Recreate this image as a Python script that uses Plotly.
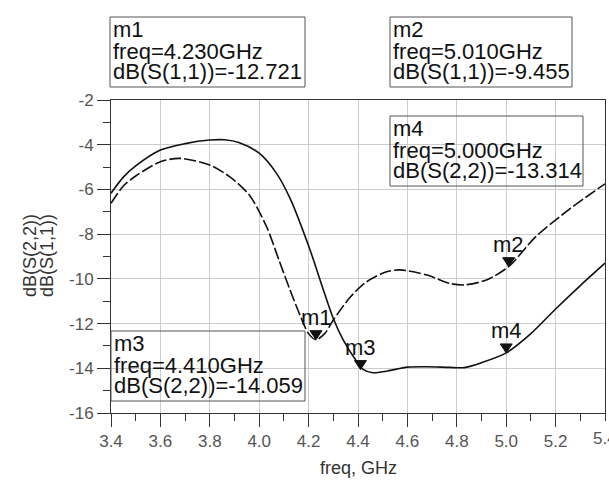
import plotly.graph_objects as go

# ---------------- data ----------------
freq_s11 = [3.40, 3.45, 3.50, 3.60, 3.68, 3.80, 3.88, 3.96, 4.03, 4.08, 4.125, 4.165,
            4.20, 4.23, 4.266, 4.30, 4.37, 4.435, 4.516, 4.57, 4.68, 4.77, 4.83,
            4.92, 5.01, 5.12, 5.26, 5.40]
db_s11 = [-6.62, -5.85, -5.40, -4.76, -4.61, -4.91, -5.43, -6.25, -7.67, -9.16, -10.50,
          -11.62, -12.45, -12.72, -12.44, -11.84, -10.80, -10.13, -9.68, -9.60, -9.83,
          -10.20, -10.27, -10.05, -9.45, -8.11, -6.85, -5.75]

freq_s22 = [3.40, 3.45, 3.50, 3.60, 3.70, 3.80, 3.86, 3.92, 4.00, 4.07, 4.125, 4.206,
            4.26, 4.30, 4.34, 4.395, 4.42, 4.46, 4.52, 4.60, 4.68, 4.77, 4.83, 4.90,
            5.00, 5.10, 5.20, 5.30, 5.40]
db_s22 = [-6.17, -5.45, -4.95, -4.24, -3.95, -3.79, -3.78, -3.91, -4.38, -5.28, -6.40,
          -8.71, -10.50, -11.77, -12.73, -13.70, -14.05, -14.20, -14.12, -13.95, -13.93,
          -13.96, -13.97, -13.75, -13.31, -12.45, -11.35, -10.30, -9.30]

marker_names = ["m1", "m2", "m3", "m4"]
marker_freq = [4.230, 5.010, 4.410, 5.000]
marker_db = [-12.721, -9.455, -14.059, -13.314]
marker_param = ["dB(S(1,1))", "dB(S(1,1))", "dB(S(2,2))", "dB(S(2,2))"]

x_ticks = [3.4, 3.6, 3.8, 4.0, 4.2, 4.4, 4.6, 4.8, 5.0, 5.2, 5.4]
y_ticks = [-2, -4, -6, -8, -10, -12, -14, -16]

# ---------------- layout geometry (pixels) ----------------
W, H = 609, 485
L, T, PW, PH = 111, 100, 494, 313

def px(xp):
    return (xp - L) / PW

def py(yp):
    return (T + PH - yp) / PH

# marker readout boxes: name -> (left, top, right, bottom) in pixels
boxes = {
    "m1": (110, 17, 305, 87),
    "m2": (390, 17, 572, 87),
    "m4": (390, 116, 583, 186),
    "m3": (111, 331, 305, 401),
}

FONT = "Arial, Liberation Sans, sans-serif"
TICKFONT = "Liberation Sans Narrow, Arial Narrow, Arial, sans-serif"
tickfont = dict(family=TICKFONT, size=17, color="#555555")

fig = go.Figure()
fig.add_trace(go.Scatter(x=freq_s11, y=db_s11, mode="lines", name="dB(S(1,1))",
                         line=dict(color="#111111", width=1.6, dash="12px,3px",
                                   shape="spline", smoothing=0.8),
                         showlegend=False, hoverinfo="skip"))
fig.add_trace(go.Scatter(x=freq_s22, y=db_s22, mode="lines", name="dB(S(2,2))",
                         line=dict(color="#111111", width=1.6,
                                   shape="spline", smoothing=0.8),
                         showlegend=False, hoverinfo="skip"))

shapes = []
annotations = []

# triangles + labels at marker points
for name, f, v in zip(marker_names, marker_freq, marker_db):
    shapes.append(dict(type="path", xref="x", yref="y", xsizemode="pixel", ysizemode="pixel",
                       xanchor=f, yanchor=v, path="M -6 9 L 6 9 L 0 0 Z",
                       fillcolor="#111111", line=dict(color="#111111", width=1)))
    annotations.append(dict(x=f, y=v, xref="x", yref="y", text=name, showarrow=False,
                            xanchor="center", yanchor="bottom", yshift=8,
                            font=dict(family=FONT, size=22, color="#111111")))

# readout boxes
for name, f, v, p in zip(marker_names, marker_freq, marker_db, marker_param):
    l, t, r, b = boxes[name]
    shapes.append(dict(type="rect", xref="paper", yref="paper",
                       x0=px(l), x1=px(r), y0=py(b), y1=py(t),
                       line=dict(color="#555555", width=1), fillcolor="rgba(0,0,0,0)"))
    lines = [name, "freq=%.3fGHz" % f, "%s=%.3f" % (p, v)]
    baselines = [t + 19.5, t + 41.5, t + 62]
    for txt, bl in zip(lines, baselines):
        annotations.append(dict(x=px(l + 0.5), y=py(bl - 7.3), xref="paper", yref="paper",
                                text=txt, showarrow=False, xanchor="left", yanchor="middle",
                                font=dict(family=FONT, size=22, color="#111111")))

# last x tick label, cut by the right edge of the picture as in the reference
annotations.append(dict(x=x_ticks[-1], y=0, xref="x", yref="paper", text="%.1f" % x_ticks[-1],
                        showarrow=False, xanchor="center", yanchor="top", yshift=-14,
                        font=tickfont))

# y-axis title as two rotated lines
for txt, xc in [("dB(S(2,2))", 30), ("dB(S(1,1))", 47)]:
    annotations.append(dict(x=px(xc), y=py(256), xref="paper", yref="paper", text=txt,
                            textangle=-90, showarrow=False, xanchor="center", yanchor="middle",
                            font=dict(family=FONT, size=18, color="#333333")))
# x-axis title
annotations.append(dict(x=px(358), y=py(468), xref="paper", yref="paper", text="freq, GHz",
                        showarrow=False, xanchor="center", yanchor="middle",
                        font=dict(family=FONT, size=18, color="#333333")))

fig.update_layout(
    width=W, height=H,
    margin=dict(l=L, r=W - L - PW, t=T, b=H - T - PH, pad=0),
    paper_bgcolor="white", plot_bgcolor="white",
    shapes=shapes, annotations=annotations, showlegend=False,
)
fig.update_xaxes(range=[3.4, 5.4], tickvals=x_ticks[:-1],
                 ticktext=["%.1f" % v for v in x_ticks[:-1]],
                 showgrid=True, gridcolor="#cccccc", gridwidth=1,
                 showline=True, linecolor="#333333", linewidth=1, mirror=True,
                 ticks="outside", ticklen=13, tickcolor="#333333", tickwidth=1,
                 tickfont=tickfont,
                 minor=dict(dtick=0.1, ticks="outside", ticklen=7, tickcolor="#333333",
                            showgrid=False),
                 zeroline=False, fixedrange=True)
fig.update_yaxes(range=[-16, -2], tickvals=y_ticks, ticktext=[str(v) for v in y_ticks],
                 showgrid=True, gridcolor="#cccccc", gridwidth=1,
                 showline=True, linecolor="#333333", linewidth=1, mirror=True,
                 ticks="outside", ticklen=13, tickcolor="#333333", tickwidth=1,
                 tickfont=tickfont,
                 minor=dict(dtick=1, ticks="outside", ticklen=7, tickcolor="#333333",
                            showgrid=False),
                 zeroline=False, fixedrange=True)

fig.write_html("out.html", config={"displayModeBar": False})
